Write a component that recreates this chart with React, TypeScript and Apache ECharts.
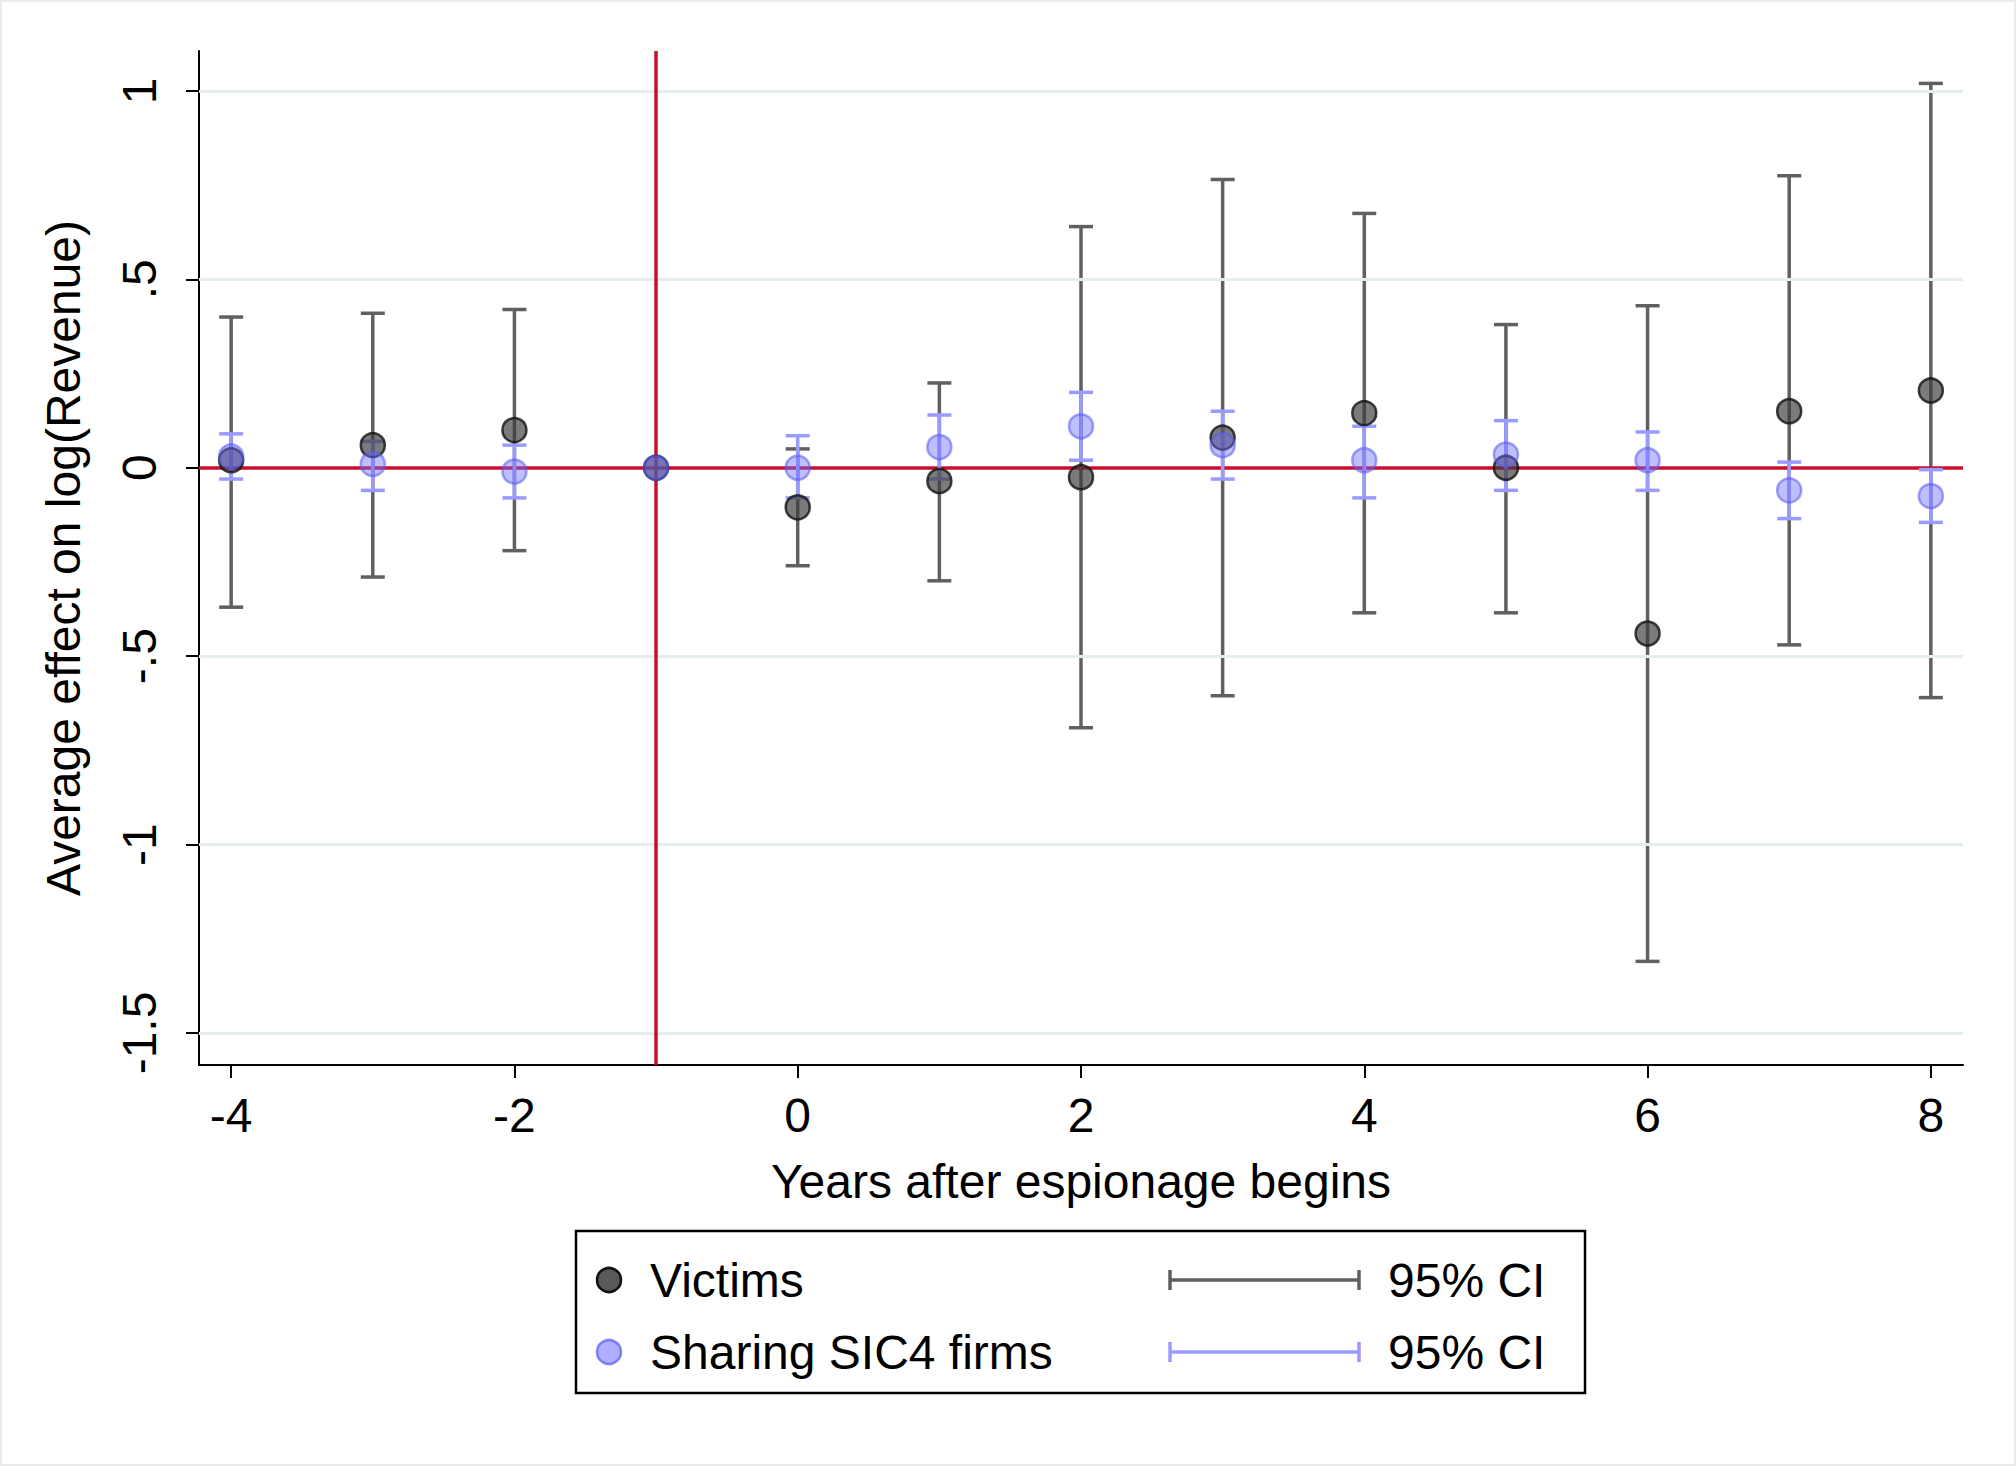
import React, { useEffect, useRef } from "react";
import * as echarts from "echarts";

const years = [-4, -3, -2, -1, 0, 1, 2, 3, 4, 5, 6, 7, 8];
const victimsEst = [0.02, 0.06, 0.1, 0, -0.105, -0.035, -0.025, 0.08, 0.145, 0, -0.44, 0.15, 0.205];
const victimsLo = [-0.37, -0.29, -0.22, 0, -0.26, -0.3, -0.69, -0.605, -0.385, -0.385, -1.31, -0.47, -0.61];
const victimsHi = [0.4, 0.41, 0.42, 0, 0.05, 0.225, 0.64, 0.765, 0.675, 0.38, 0.43, 0.775, 1.02];
const sicEst = [0.03, 0.01, -0.01, 0, 0, 0.055, 0.11, 0.06, 0.02, 0.035, 0.02, -0.06, -0.075];
const sicLo = [-0.03, -0.06, -0.08, 0, -0.08, -0.03, 0.02, -0.03, -0.08, -0.06, -0.06, -0.135, -0.145];
const sicHi = [0.09, 0.07, 0.06, 0, 0.085, 0.14, 0.2, 0.15, 0.11, 0.125, 0.095, 0.015, -0.005];
const xTicks = [-4, -2, 0, 2, 4, 6, 8];
const yTicks = [-1.5, -1, -0.5, 0, 0.5, 1];
const yTickLabels = ["-1.5", "-1", "-.5", "0", ".5", "1"];

const GRAY = "#606060";
const BLUE = "#9a9aff";
const RED = "#c8102e";

function bars(lo: number[], hi: number[]) {
  return years.map((y, i) => [y, lo[i], hi[i]]).filter((d) => d[1] !== d[2]);
}

function errorSeries(data: number[][], color: string, z: number) {
  return {
    type: "custom",
    z,
    data,
    renderItem: (params: any, api: any) => {
      const x = api.value(0);
      const lo = api.coord([x, api.value(1)]);
      const hi = api.coord([x, api.value(2)]);
      const w = 12;
      const style = { stroke: color, lineWidth: 3.5 };
      return {
        type: "group",
        children: [
          { type: "line", shape: { x1: lo[0], y1: lo[1], x2: hi[0], y2: hi[1] }, style },
          { type: "line", shape: { x1: lo[0] - w, y1: lo[1], x2: lo[0] + w, y2: lo[1] }, style },
          { type: "line", shape: { x1: hi[0] - w, y1: hi[1], x2: hi[0] + w, y2: hi[1] }, style },
        ],
      };
    },
  };
}

export default function App() {
  const ref = useRef<HTMLDivElement>(null);
  useEffect(() => {
    const chart = echarts.init(ref.current!, null, { renderer: "svg" });
    const font = "Liberation Sans";
    const fs = 48;
    const legY1 = 1280, legY2 = 1352;
    chart.setOption({
      animation: false,
      backgroundColor: "#fff",
      textStyle: { fontFamily: font },
      grid: { left: 199, right: 53, top: 51, bottom: 401 },
      xAxis: {
        type: "value",
        min: -4.227,
        max: 8.227,
        name: "Years after espionage begins",
        nameLocation: "middle",
        nameGap: 92,
        nameTextStyle: { fontSize: fs, color: "#000" },
        axisLine: { onZero: false, lineStyle: { color: "#000", width: 2 } },
        axisTick: { show: true, length: 13, lineStyle: { color: "#000", width: 2 }, customValues: xTicks },
        axisLabel: { fontSize: fs, color: "#000", margin: 26, customValues: xTicks },
        splitLine: { show: false },
      },
      yAxis: {
        type: "value",
        min: -1.585,
        max: 1.106,
        name: "Average effect on log(Revenue)",
        nameLocation: "middle",
        nameGap: 112,
        nameTextStyle: { fontSize: fs, color: "#000" },
        axisLine: { show: true, onZero: false, lineStyle: { color: "#000", width: 2 } },
        axisTick: { show: true, length: 13, lineStyle: { color: "#000", width: 2 }, customValues: yTicks },
        axisLabel: {
          fontSize: fs,
          color: "#000",
          rotate: 90,
          margin: 36,
          customValues: yTicks,
          formatter: (v: number) => yTickLabels[yTicks.indexOf(v)] ?? "",
        },
        splitLine: { show: false },
      },
      series: [
        {
          type: "line",
          data: [],
          silent: true,
          markLine: {
            symbol: "none",
            silent: true,
            label: { show: false },
            lineStyle: { color: "#e6eeec", width: 3, type: "solid" },
            data: yTicks.filter((v) => v !== 0).map((v) => ({ yAxis: v })),
          },
        },
        {
          type: "line",
          data: [],
          silent: true,
          z: 3,
          markLine: {
            symbol: "none",
            silent: true,
            label: { show: false },
            lineStyle: { color: RED, width: 3.5, type: "solid" },
            data: [{ yAxis: 0 }, { xAxis: -1 }],
          },
        },
        errorSeries(bars(victimsLo, victimsHi), GRAY, 4),
        errorSeries(bars(sicLo, sicHi), BLUE, 5),
        {
          type: "scatter",
          z: 6,
          symbolSize: 24,
          data: years.map((y, i) => [y, victimsEst[i]]),
          itemStyle: { color: "rgba(60,60,60,0.85)", borderColor: "#111", borderWidth: 2.5 },
        },
        {
          type: "scatter",
          z: 7,
          symbolSize: 24,
          data: years.map((y, i) => [y, sicEst[i]]),
          itemStyle: { color: "rgba(110,110,255,0.55)", borderColor: "rgba(90,90,240,0.7)", borderWidth: 2.5 },
        },
      ],
      graphic: [
        { type: "rect", shape: { x: 1, y: 1, width: 2014, height: 1464 }, style: { fill: "none", stroke: "#e8ecec", lineWidth: 2 } },
        { type: "rect", shape: { x: 576, y: 1231, width: 1009, height: 162 }, style: { fill: "#fff", stroke: "#000", lineWidth: 2.5 } },
        { type: "circle", shape: { cx: 609, cy: legY1, r: 12 }, style: { fill: "rgba(60,60,60,0.85)", stroke: "#111", lineWidth: 2.5 } },
        { type: "circle", shape: { cx: 609, cy: legY2, r: 12 }, style: { fill: "rgba(110,110,255,0.55)", stroke: "rgba(90,90,240,0.7)", lineWidth: 2.5 } },
        { type: "text", x: 650, y: legY1, style: { text: "Victims", fontSize: fs, fontFamily: font, fill: "#000", verticalAlign: "middle" } },
        { type: "text", x: 650, y: legY2, style: { text: "Sharing SIC4 firms", fontSize: fs, fontFamily: font, fill: "#000", verticalAlign: "middle" } },
        { type: "line", shape: { x1: 1170, y1: legY1, x2: 1359, y2: legY1 }, style: { stroke: GRAY, lineWidth: 3.5 } },
        { type: "line", shape: { x1: 1170, y1: legY1 - 10, x2: 1170, y2: legY1 + 10 }, style: { stroke: GRAY, lineWidth: 3.5 } },
        { type: "line", shape: { x1: 1359, y1: legY1 - 10, x2: 1359, y2: legY1 + 10 }, style: { stroke: GRAY, lineWidth: 3.5 } },
        { type: "line", shape: { x1: 1170, y1: legY2, x2: 1359, y2: legY2 }, style: { stroke: BLUE, lineWidth: 3.5 } },
        { type: "line", shape: { x1: 1170, y1: legY2 - 10, x2: 1170, y2: legY2 + 10 }, style: { stroke: BLUE, lineWidth: 3.5 } },
        { type: "line", shape: { x1: 1359, y1: legY2 - 10, x2: 1359, y2: legY2 + 10 }, style: { stroke: BLUE, lineWidth: 3.5 } },
        { type: "text", x: 1388, y: legY1, style: { text: "95% CI", fontSize: fs, fontFamily: font, fill: "#000", verticalAlign: "middle" } },
        { type: "text", x: 1388, y: legY2, style: { text: "95% CI", fontSize: fs, fontFamily: font, fill: "#000", verticalAlign: "middle" } },
      ],
    });
    return () => chart.dispose();
  }, []);
  return <div ref={ref} style={{ position: "fixed", left: 0, top: 0, width: 2016, height: 1466 }} />;
}
